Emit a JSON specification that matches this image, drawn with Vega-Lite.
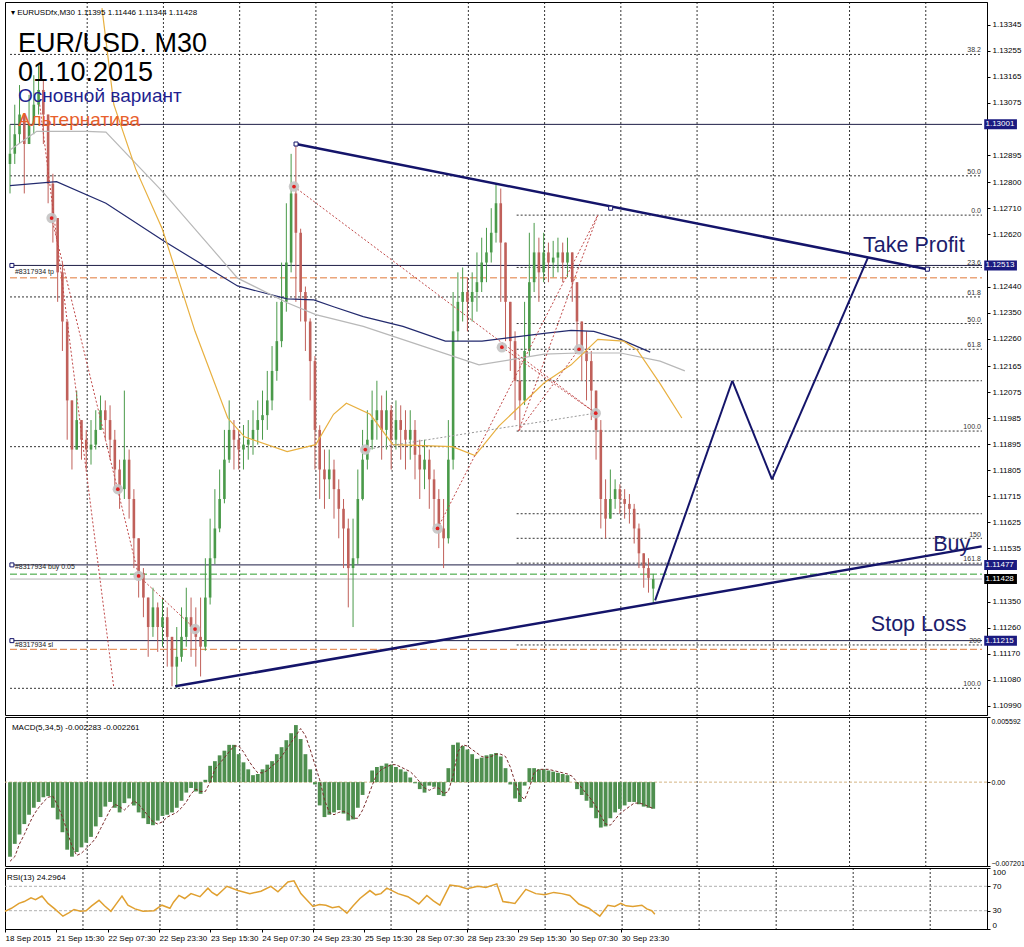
{
"$schema":"https://vega.github.io/schema/vega-lite/v6.json",
"padding":{"left":1,"top":1,"right":0,"bottom":0},
"spacing":2,
"bounds":"flush",
"config":{"view":{"stroke":"#000","strokeWidth":1},"font":"Liberation Sans","axis":{"labelFont":"Liberation Sans","labelFontSize":8,"labelColor":"#000","domainColor":"#000","tickColor":"#000","tickSize":3,"grid":false,"labelPadding":2}},
"datasets":{
"vg":[{"t":48.6},{"t":96.6},{"t":144.6},{"t":192.6},{"t":240.6},{"t":288.6},{"t":336.6},{"t":384.6},{"t":432.6},{"t":480.6},{"t":528.6},{"t":576.6}],
"cd":[
{"t":0,"o":1.12864,"h":1.13001,"l":1.12762,"c":1.12899,"m":-0.0064,"s":-0.0068},
{"t":3,"o":1.12899,"h":1.13069,"l":1.12864,"c":1.12967,"m":-0.0053,"s":-0.0064},
{"t":6,"o":1.12967,"h":1.13137,"l":1.12933,"c":1.13035,"m":-0.0045,"s":-0.0053},
{"t":9,"o":1.13035,"h":1.13035,"l":1.12762,"c":1.12933,"m":-0.0036,"s":-0.0045},
{"t":12,"o":1.12933,"h":1.13103,"l":1.12933,"c":1.13001,"m":-0.0028,"s":-0.0036},
{"t":15,"o":1.13001,"h":1.13171,"l":1.12967,"c":1.13069,"m":-0.0022,"s":-0.0028},
{"t":18,"o":1.13069,"h":1.13205,"l":1.13035,"c":1.1312,"m":-0.0017,"s":-0.0022},
{"t":21,"o":1.1312,"h":1.13154,"l":1.12933,"c":1.13035,"m":-0.0013,"s":-0.0017},
{"t":24,"o":1.13035,"h":1.13035,"l":1.12728,"c":1.12796,"m":-0.0012,"s":-0.0013},
{"t":27,"o":1.12796,"h":1.1283,"l":1.12592,"c":1.12677,"m":-0.0022,"s":-0.0012},
{"t":30,"o":1.12677,"h":1.12677,"l":1.12387,"c":1.12489,"m":-0.0032,"s":-0.002},
{"t":33,"o":1.12489,"h":1.12523,"l":1.12217,"c":1.12319,"m":-0.0043,"s":-0.003},
{"t":36,"o":1.12319,"h":1.12319,"l":1.1191,"c":1.12046,"m":-0.0058,"s":-0.0042},
{"t":39,"o":1.12046,"h":1.12046,"l":1.11807,"c":1.11876,"m":-0.0064,"s":-0.0055},
{"t":42,"o":1.11876,"h":1.1208,"l":1.11876,"c":1.11978,"m":-0.006,"s":-0.0063},
{"t":45,"o":1.11978,"h":1.11978,"l":1.11841,"c":1.1191,"m":-0.0056,"s":-0.0061},
{"t":48,"o":1.1191,"h":1.11944,"l":1.11807,"c":1.11876,"m":-0.0052,"s":-0.0057},
{"t":51,"o":1.11876,"h":1.11978,"l":1.11824,"c":1.11893,"m":-0.0047,"s":-0.0053},
{"t":54,"o":1.11893,"h":1.12012,"l":1.11876,"c":1.11944,"m":-0.0038,"s":-0.0048},
{"t":57,"o":1.11944,"h":1.12063,"l":1.11944,"c":1.12012,"m":-0.003,"s":-0.004},
{"t":60,"o":1.12012,"h":1.12046,"l":1.1191,"c":1.11978,"m":-0.0021,"s":-0.0032},
{"t":63,"o":1.11978,"h":1.12029,"l":1.11841,"c":1.1191,"m":-0.0017,"s":-0.0024},
{"t":66,"o":1.1191,"h":1.11944,"l":1.11739,"c":1.11807,"m":-0.0022,"s":-0.0019},
{"t":69,"o":1.11807,"h":1.11841,"l":1.11671,"c":1.11739,"m":-0.0026,"s":-0.0021},
{"t":72,"o":1.11739,"h":1.1208,"l":1.11705,"c":1.11841,"m":-0.0018,"s":-0.0024},
{"t":75,"o":1.11841,"h":1.11876,"l":1.11637,"c":1.11705,"m":-0.0014,"s":-0.002},
{"t":78,"o":1.11705,"h":1.11739,"l":1.11466,"c":1.11569,"m":-0.002,"s":-0.0016},
{"t":81,"o":1.11569,"h":1.11569,"l":1.11364,"c":1.11449,"m":-0.0026,"s":-0.0019},
{"t":84,"o":1.11449,"h":1.11466,"l":1.11296,"c":1.11364,"m":-0.0031,"s":-0.0024},
{"t":87,"o":1.11364,"h":1.11364,"l":1.11159,"c":1.11262,"m":-0.0036,"s":-0.0029},
{"t":90,"o":1.11262,"h":1.11398,"l":1.11228,"c":1.1133,"m":-0.0037,"s":-0.0034},
{"t":93,"o":1.1133,"h":1.11347,"l":1.11176,"c":1.11262,"m":-0.0033,"s":-0.0036},
{"t":96,"o":1.11262,"h":1.11364,"l":1.11194,"c":1.11296,"m":-0.0029,"s":-0.0034},
{"t":99,"o":1.11296,"h":1.1133,"l":1.11125,"c":1.11228,"m":-0.0028,"s":-0.003},
{"t":102,"o":1.11228,"h":1.11228,"l":1.11057,"c":1.11125,"m":-0.0026,"s":-0.0028},
{"t":105,"o":1.11125,"h":1.11262,"l":1.1105,"c":1.11159,"m":-0.0022,"s":-0.0026},
{"t":108,"o":1.11159,"h":1.1133,"l":1.11142,"c":1.11228,"m":-0.0016,"s":-0.0022},
{"t":111,"o":1.11228,"h":1.11398,"l":1.11194,"c":1.11296,"m":-0.0009,"s":-0.0017},
{"t":114,"o":1.11296,"h":1.11364,"l":1.11159,"c":1.11262,"m":-0.0005,"s":-0.001},
{"t":117,"o":1.11262,"h":1.1133,"l":1.11125,"c":1.11228,"m":-0.0008,"s":-0.0006},
{"t":120,"o":1.11228,"h":1.11364,"l":1.11091,"c":1.11194,"m":-0.001,"s":-0.0008},
{"t":123,"o":1.11194,"h":1.115,"l":1.1118,"c":1.11364,"m":0.0002,"s":-0.0008},
{"t":126,"o":1.11364,"h":1.11637,"l":1.1134,"c":1.115,"m":0.0014,"s":0.0},
{"t":129,"o":1.115,"h":1.11739,"l":1.1148,"c":1.11603,"m":0.0018,"s":0.0011},
{"t":132,"o":1.11603,"h":1.11807,"l":1.1159,"c":1.11705,"m":0.0023,"s":0.0016},
{"t":135,"o":1.11705,"h":1.11944,"l":1.1169,"c":1.11841,"m":0.0027,"s":0.0021},
{"t":138,"o":1.11841,"h":1.12046,"l":1.1183,"c":1.11944,"m":0.0032,"s":0.0026},
{"t":141,"o":1.11944,"h":1.11978,"l":1.11807,"c":1.1191,"m":0.0032,"s":0.0031},
{"t":144,"o":1.1191,"h":1.11944,"l":1.11807,"c":1.11876,"m":0.0024,"s":0.0031},
{"t":147,"o":1.11876,"h":1.11961,"l":1.11807,"c":1.11893,"m":0.0017,"s":0.0026},
{"t":150,"o":1.11893,"h":1.11978,"l":1.11841,"c":1.1191,"m":0.0011,"s":0.0019},
{"t":153,"o":1.1191,"h":1.12012,"l":1.11858,"c":1.11944,"m":0.0006,"s":0.0013},
{"t":156,"o":1.11944,"h":1.12046,"l":1.11893,"c":1.11978,"m":0.0007,"s":0.0008},
{"t":159,"o":1.11978,"h":1.1208,"l":1.1191,"c":1.11995,"m":0.0011,"s":0.0008},
{"t":162,"o":1.11995,"h":1.12148,"l":1.11944,"c":1.12046,"m":0.0015,"s":0.001},
{"t":165,"o":1.12046,"h":1.12234,"l":1.12012,"c":1.12148,"m":0.0018,"s":0.0014},
{"t":168,"o":1.12148,"h":1.12387,"l":1.12114,"c":1.12251,"m":0.0024,"s":0.0017},
{"t":171,"o":1.12251,"h":1.12523,"l":1.1223,"c":1.12387,"m":0.003,"s":0.0022},
{"t":174,"o":1.12387,"h":1.12728,"l":1.12353,"c":1.12523,"m":0.0036,"s":0.0028},
{"t":177,"o":1.12523,"h":1.12899,"l":1.12489,"c":1.12762,"m":0.0042,"s":0.0034},
{"t":180,"o":1.12762,"h":1.12933,"l":1.12387,"c":1.12626,"m":0.0049,"s":0.004},
{"t":183,"o":1.12626,"h":1.1264,"l":1.12319,"c":1.12421,"m":0.0037,"s":0.0046},
{"t":186,"o":1.12421,"h":1.1244,"l":1.12217,"c":1.12319,"m":0.0024,"s":0.004},
{"t":189,"o":1.12319,"h":1.1233,"l":1.12046,"c":1.12182,"m":0.0011,"s":0.0028},
{"t":192,"o":1.12182,"h":1.122,"l":1.11807,"c":1.11944,"m":-0.0002,"s":0.0015},
{"t":195,"o":1.11944,"h":1.1196,"l":1.11705,"c":1.11807,"m":-0.002,"s":0.0002},
{"t":198,"o":1.11807,"h":1.11876,"l":1.11671,"c":1.11773,"m":-0.003,"s":-0.0015},
{"t":201,"o":1.11773,"h":1.11876,"l":1.11705,"c":1.11807,"m":-0.0028,"s":-0.0026},
{"t":204,"o":1.11807,"h":1.11841,"l":1.11637,"c":1.11739,"m":-0.0026,"s":-0.0028},
{"t":207,"o":1.11739,"h":1.11773,"l":1.11569,"c":1.11671,"m":-0.0024,"s":-0.0026},
{"t":210,"o":1.11671,"h":1.11705,"l":1.11466,"c":1.11603,"m":-0.0027,"s":-0.0025},
{"t":213,"o":1.11603,"h":1.11637,"l":1.1133,"c":1.11466,"m":-0.0033,"s":-0.0027},
{"t":216,"o":1.11466,"h":1.11637,"l":1.11262,"c":1.115,"m":-0.0032,"s":-0.0031},
{"t":219,"o":1.115,"h":1.11807,"l":1.1148,"c":1.11705,"m":-0.0022,"s":-0.0031},
{"t":222,"o":1.11705,"h":1.11944,"l":1.117,"c":1.11841,"m":-0.0011,"s":-0.0024},
{"t":225,"o":1.11841,"h":1.12012,"l":1.11807,"c":1.1191,"m":0.0,"s":-0.0014},
{"t":228,"o":1.1191,"h":1.1208,"l":1.11876,"c":1.11978,"m":0.001,"s":-0.0003},
{"t":231,"o":1.11978,"h":1.12114,"l":1.1191,"c":1.12012,"m":0.0013,"s":0.0007},
{"t":234,"o":1.12012,"h":1.12063,"l":1.11841,"c":1.11944,"m":0.0014,"s":0.0011},
{"t":237,"o":1.11944,"h":1.1208,"l":1.11876,"c":1.12012,"m":0.0016,"s":0.0013},
{"t":240,"o":1.12012,"h":1.1203,"l":1.11807,"c":1.1191,"m":0.0015,"s":0.0015},
{"t":243,"o":1.1191,"h":1.12046,"l":1.11876,"c":1.11978,"m":0.0013,"s":0.0015},
{"t":246,"o":1.11978,"h":1.12029,"l":1.11841,"c":1.11944,"m":0.0011,"s":0.0013},
{"t":249,"o":1.11944,"h":1.12012,"l":1.11807,"c":1.1191,"m":0.0009,"s":0.0011},
{"t":252,"o":1.1191,"h":1.12012,"l":1.11841,"c":1.11944,"m":0.0004,"s":0.0009},
{"t":255,"o":1.11944,"h":1.11978,"l":1.11773,"c":1.11858,"m":-0.0001,"s":0.0005},
{"t":258,"o":1.11858,"h":1.1191,"l":1.11705,"c":1.11807,"m":-0.0006,"s":0.0},
{"t":261,"o":1.11807,"h":1.1191,"l":1.11739,"c":1.11841,"m":-0.0009,"s":-0.0005},
{"t":264,"o":1.11841,"h":1.11876,"l":1.11671,"c":1.11773,"m":-0.0003,"s":-0.0007},
{"t":267,"o":1.11773,"h":1.11807,"l":1.11603,"c":1.11705,"m":-0.0004,"s":-0.0005},
{"t":270,"o":1.11705,"h":1.11739,"l":1.11535,"c":1.11603,"m":-0.0011,"s":-0.0005},
{"t":273,"o":1.11603,"h":1.11705,"l":1.11466,"c":1.11569,"m":-0.0012,"s":-0.001},
{"t":276,"o":1.11569,"h":1.11978,"l":1.11551,"c":1.11841,"m":0.0012,"s":-0.0008},
{"t":279,"o":1.11841,"h":1.12421,"l":1.11807,"c":1.12285,"m":0.0032,"s":0.0006},
{"t":282,"o":1.12285,"h":1.12489,"l":1.12251,"c":1.12387,"m":0.0034,"s":0.0026},
{"t":285,"o":1.12387,"h":1.12506,"l":1.12319,"c":1.12421,"m":0.0031,"s":0.0032},
{"t":288,"o":1.12421,"h":1.12472,"l":1.12285,"c":1.12387,"m":0.0028,"s":0.0031},
{"t":291,"o":1.12387,"h":1.12489,"l":1.12319,"c":1.12421,"m":0.0024,"s":0.0028},
{"t":294,"o":1.12421,"h":1.12558,"l":1.12353,"c":1.12455,"m":0.002,"s":0.0025},
{"t":297,"o":1.12455,"h":1.12609,"l":1.12421,"c":1.12523,"m":0.0021,"s":0.0022},
{"t":300,"o":1.12523,"h":1.12643,"l":1.12455,"c":1.12558,"m":0.0023,"s":0.0021},
{"t":303,"o":1.12558,"h":1.12711,"l":1.12523,"c":1.12626,"m":0.0024,"s":0.0022},
{"t":306,"o":1.12626,"h":1.12796,"l":1.12592,"c":1.12728,"m":0.0025,"s":0.0024},
{"t":309,"o":1.12728,"h":1.12779,"l":1.12387,"c":1.12592,"m":0.0022,"s":0.0024},
{"t":312,"o":1.12592,"h":1.12592,"l":1.12251,"c":1.12387,"m":0.0012,"s":0.0022},
{"t":315,"o":1.12387,"h":1.12387,"l":1.12148,"c":1.12251,"m":-0.0002,"s":0.0013},
{"t":318,"o":1.12251,"h":1.12285,"l":1.11978,"c":1.12114,"m":-0.0014,"s":0.0},
{"t":321,"o":1.12114,"h":1.12182,"l":1.11944,"c":1.12046,"m":-0.0017,"s":-0.0011},
{"t":324,"o":1.12046,"h":1.12387,"l":1.1203,"c":1.12217,"m":-0.0003,"s":-0.0015},
{"t":327,"o":1.12217,"h":1.12626,"l":1.122,"c":1.12455,"m":0.0012,"s":-0.0005},
{"t":330,"o":1.12455,"h":1.1266,"l":1.12421,"c":1.12558,"m":0.0012,"s":0.0008},
{"t":333,"o":1.12558,"h":1.12609,"l":1.12387,"c":1.12489,"m":0.0011,"s":0.0011},
{"t":336,"o":1.12489,"h":1.12626,"l":1.12455,"c":1.12558,"m":0.0011,"s":0.0011},
{"t":339,"o":1.12558,"h":1.12592,"l":1.12455,"c":1.12523,"m":0.001,"s":0.0011},
{"t":342,"o":1.12523,"h":1.12598,"l":1.12472,"c":1.1254,"m":0.0009,"s":0.001},
{"t":345,"o":1.1254,"h":1.12609,"l":1.12489,"c":1.12558,"m":0.0008,"s":0.0009},
{"t":348,"o":1.12558,"h":1.12592,"l":1.12455,"c":1.12523,"m":0.0007,"s":0.0008},
{"t":351,"o":1.12523,"h":1.12609,"l":1.12472,"c":1.12558,"m":0.0006,"s":0.0007},
{"t":354,"o":1.12558,"h":1.12558,"l":1.12387,"c":1.12455,"m":0.0,"s":0.0005},
{"t":357,"o":1.12455,"h":1.12455,"l":1.12217,"c":1.12319,"m":-0.0006,"s":0.0},
{"t":360,"o":1.12319,"h":1.12319,"l":1.12114,"c":1.12217,"m":-0.0011,"s":-0.0005},
{"t":363,"o":1.12217,"h":1.12285,"l":1.12046,"c":1.12182,"m":-0.0016,"s":-0.001},
{"t":366,"o":1.12182,"h":1.12217,"l":1.11978,"c":1.1208,"m":-0.0022,"s":-0.0015},
{"t":369,"o":1.1208,"h":1.1208,"l":1.11841,"c":1.11944,"m":-0.0031,"s":-0.0021},
{"t":372,"o":1.11944,"h":1.11978,"l":1.11603,"c":1.11705,"m":-0.0039,"s":-0.0029},
{"t":375,"o":1.11705,"h":1.11773,"l":1.11569,"c":1.11637,"m":-0.0038,"s":-0.0036},
{"t":378,"o":1.11637,"h":1.11807,"l":1.11637,"c":1.11705,"m":-0.0031,"s":-0.0037},
{"t":381,"o":1.11705,"h":1.11773,"l":1.11671,"c":1.11739,"m":-0.0026,"s":-0.0032},
{"t":384,"o":1.11739,"h":1.11756,"l":1.11654,"c":1.11705,"m":-0.0023,"s":-0.0027},
{"t":387,"o":1.11705,"h":1.11739,"l":1.11637,"c":1.11688,"m":-0.002,"s":-0.0024},
{"t":390,"o":1.11688,"h":1.11722,"l":1.1162,"c":1.11671,"m":-0.0017,"s":-0.0021},
{"t":393,"o":1.11671,"h":1.11688,"l":1.11551,"c":1.11603,"m":-0.0017,"s":-0.0018},
{"t":396,"o":1.11603,"h":1.1162,"l":1.11466,"c":1.11517,"m":-0.0019,"s":-0.0018},
{"t":399,"o":1.11517,"h":1.11517,"l":1.11398,"c":1.11466,"m":-0.0021,"s":-0.0019},
{"t":402,"o":1.11466,"h":1.115,"l":1.11381,"c":1.11432,"m":-0.0022,"s":-0.0021},
{"t":405,"o":1.11395,"h":1.11446,"l":1.11344,"c":1.11428,"m":-0.002283,"s":-0.002261}
],
"ma":[
{"t":0,"k":"navy","p":1.12789},{"t":29.3,"k":"navy","p":1.12803},{"t":60.4,"k":"navy","p":1.12728},{"t":96.6,"k":"navy","p":1.12598},{"t":143.3,"k":"navy","p":1.12442},{"t":174.5,"k":"navy","p":1.12397},{"t":191.3,"k":"navy","p":1.12394},{"t":203.7,"k":"navy","p":1.1237},{"t":222.4,"k":"navy","p":1.12336},{"t":247.4,"k":"navy","p":1.12302},{"t":274.1,"k":"navy","p":1.12251},{"t":297.2,"k":"navy","p":1.12251},{"t":336.4,"k":"navy","p":1.12278},{"t":353.3,"k":"navy","p":1.12288},{"t":367.6,"k":"navy","p":1.12285},{"t":384.4,"k":"navy","p":1.12257},{"t":403.1,"k":"navy","p":1.12213},
{"t":0,"k":"gray","p":1.12912},{"t":16.8,"k":"gray","p":1.12977},{"t":48,"k":"gray","p":1.12977},{"t":60.4,"k":"gray","p":1.12974},{"t":95.9,"k":"gray","p":1.12769},{"t":143.3,"k":"gray","p":1.12469},{"t":174.5,"k":"gray","p":1.12384},{"t":192.5,"k":"gray","p":1.12343},{"t":222.4,"k":"gray","p":1.12302},{"t":259.8,"k":"gray","p":1.12234},{"t":295.3,"k":"gray","p":1.12169},{"t":336.4,"k":"gray","p":1.12206},{"t":357.6,"k":"gray","p":1.1221},{"t":384.4,"k":"gray","p":1.1221},{"t":409.3,"k":"gray","p":1.12182},{"t":424.9,"k":"gray","p":1.12148},
{"t":57.9,"k":"orange","p":1.13403},{"t":65.4,"k":"orange","p":1.13069},{"t":79.1,"k":"orange","p":1.12847},{"t":95.9,"k":"orange","p":1.12639},{"t":116.5,"k":"orange","p":1.12285},{"t":137.1,"k":"orange","p":1.11985},{"t":147.7,"k":"orange","p":1.1192},{"t":174.5,"k":"orange","p":1.11869},{"t":192.5,"k":"orange","p":1.11893},{"t":203.7,"k":"orange","p":1.11998},{"t":211.8,"k":"orange","p":1.12036},{"t":226.8,"k":"orange","p":1.11998},{"t":241.1,"k":"orange","p":1.11893},{"t":278.5,"k":"orange","p":1.11886},{"t":292.8,"k":"orange","p":1.11855},{"t":307.8,"k":"orange","p":1.11957},{"t":336.4,"k":"orange","p":1.12107},{"t":353.3,"k":"orange","p":1.12169},{"t":370.1,"k":"orange","p":1.12257},{"t":386.3,"k":"orange","p":1.12251},{"t":395,"k":"orange","p":1.1222},{"t":409.3,"k":"orange","p":1.12104},{"t":423,"k":"orange","p":1.11985}
],
"seg":[
{"t":0,"p":1.13243,"t2":612,"p2":1.13243,"g":"f1"},{"t":0,"p":1.12823,"t2":612,"p2":1.12823,"g":"f1"},{"t":0,"p":1.12404,"t2":612,"p2":1.12404,"g":"f1"},{"t":0,"p":1.11886,"t2":612,"p2":1.11886,"g":"f1"},{"t":0,"p":1.1105,"t2":612,"p2":1.1105,"g":"f1"},
{"t":319,"p":1.12687,"t2":612,"p2":1.12687,"g":"f2"},{"t":319,"p":1.12506,"t2":612,"p2":1.12506,"g":"f2"},{"t":319,"p":1.12312,"t2":612,"p2":1.12312,"g":"f2"},{"t":319,"p":1.12223,"t2":612,"p2":1.12223,"g":"f2"},{"t":319,"p":1.12114,"t2":612,"p2":1.12114,"g":"f2"},{"t":319,"p":1.1194,"t2":612,"p2":1.1194,"g":"f2"},{"t":319,"p":1.11654,"t2":612,"p2":1.11654,"g":"f2"},{"t":319,"p":1.11569,"t2":612,"p2":1.11569,"g":"f2"},{"t":319,"p":1.11483,"t2":612,"p2":1.11483,"g":"f2"},{"t":319,"p":1.112,"t2":612,"p2":1.112,"g":"f2"},
{"t":0,"p":1.13001,"t2":612,"p2":1.13001,"g":"h"},{"t":0,"p":1.12513,"t2":612,"p2":1.12513,"g":"h"},{"t":0,"p":1.11477,"t2":612,"p2":1.11477,"g":"h"},{"t":0,"p":1.11215,"t2":612,"p2":1.11215,"g":"h"},
{"t":0,"p":1.1247,"t2":612,"p2":1.1247,"g":"tp"},{"t":0,"p":1.11185,"t2":612,"p2":1.11185,"g":"tp"},
{"t":0,"p":1.11445,"t2":612,"p2":1.11445,"g":"buy"},
{"t":0,"p":1.11428,"t2":612,"p2":1.11428,"g":"bid"},
{"t":18.7,"p":1.13069,"t2":65.4,"p2":1.1105,"g":"rd"},{"t":26.2,"p":1.12677,"t2":81,"p2":1.11439,"g":"rd"},{"t":81,"p":1.11439,"t2":116.5,"p2":1.11255,"g":"rd"},{"t":178.8,"p":1.12786,"t2":368.8,"p2":1.12002,"g":"rd"},{"t":269.2,"p":1.11603,"t2":370.1,"p2":1.12687,"g":"rd"},{"t":320.2,"p":1.1194,"t2":370.1,"p2":1.12687,"g":"rd"},{"t":309.7,"p":1.1223,"t2":368.8,"p2":1.12002,"g":"rd"},{"t":320.2,"p":1.1194,"t2":358.3,"p2":1.12223,"g":"rd"},
{"t":223.7,"p":1.11876,"t2":368.8,"p2":1.12002,"g":"gd"},
{"t":180.1,"p":1.12933,"t2":577.6,"p2":1.125,"g":"tr"},{"t":104,"p":1.11057,"t2":611.8,"p2":1.11541,"g":"tr"},
{"t":406.2,"p":1.11354,"t2":454.8,"p2":1.12114,"g":"zz"},{"t":454.8,"p":1.12114,"t2":479.8,"p2":1.11773,"g":"zz"},{"t":479.8,"p":1.11773,"t2":540.2,"p2":1.1254,"g":"zz"}
],
"mk":[{"t":26.2,"p":1.12677},{"t":67.9,"p":1.11739},{"t":81,"p":1.11439},{"t":116.5,"p":1.11255},{"t":178.8,"p":1.12786},{"t":223.7,"p":1.11876},{"t":269.2,"p":1.11603},{"t":309.7,"p":1.1223},{"t":358.3,"p":1.12223},{"t":368.8,"p":1.12002}],
"sq":[{"t":180.1,"p":1.12933},{"t":378.2,"p":1.12711},{"t":577.6,"p":1.125},{"t":1.2,"p":1.12513},{"t":1.2,"p":1.11477},{"t":1.2,"p":1.11215}],
"tx":[
{"t":0.6,"p":1.13379,"s":"▾ EURUSDfx,M30  1.11395 1.11446 1.11344 1.11428","g":"hdr"},
{"t":5,"p":1.1325,"s":"EUR/USD. M30","g":"big"},
{"t":5,"p":1.13151,"s":"01.10.2015","g":"big"},
{"t":5,"p":1.13079,"s":"Основной вариант","g":"s1"},
{"t":5,"p":1.12997,"s":"Альтернатива","g":"s2"},
{"t":3.1,"p":1.12483,"s":"#8317934 tp","g":"tag"},
{"t":3.1,"p":1.11463,"s":"#8317934 buy 0.05","g":"tag"},
{"t":3.1,"p":1.11194,"s":"#8317934 sl","g":"tag"},
{"t":537.1,"p":1.12558,"s":"Take Profit","g":"lbl"},
{"t":581.3,"p":1.11524,"s":"Buy","g":"lbl"},
{"t":542,"p":1.11248,"s":"Stop Loss","g":"lbl"},
{"t":611.3,"p":1.1325,"s":"38.2","g":"fib"},
{"t":611.3,"p":1.1283,"s":"50.0","g":"fib"},
{"t":611.3,"p":1.12694,"s":"0.0","g":"fib"},
{"t":611.3,"p":1.12513,"s":"23.6","g":"fib"},
{"t":611.3,"p":1.12411,"s":"61.8","g":"fib"},
{"t":611.3,"p":1.12319,"s":"50.0","g":"fib"},
{"t":611.3,"p":1.1223,"s":"61.8","g":"fib"},
{"t":611.3,"p":1.11947,"s":"100.0","g":"fib"},
{"t":611.3,"p":1.11575,"s":"150","g":"fib"},
{"t":611.3,"p":1.1149,"s":"161.8","g":"fib"},
{"t":611.3,"p":1.11207,"s":"200","g":"fib"},
{"t":611.3,"p":1.11057,"s":"100.0","g":"fib"}
],
"box":[{"p":1.13001,"g":"n"},{"p":1.12513,"g":"n"},{"p":1.11477,"g":"n"},{"p":1.11428,"g":"k"},{"p":1.11215,"g":"n"}],
"rsi":[
{"t":0,"r":29},{"t":4,"r":34},{"t":8.7,"r":42},{"t":12,"r":45},{"t":16.2,"r":51},{"t":19,"r":48},{"t":23,"r":54},{"t":26.8,"r":42},{"t":31,"r":33},{"t":36.1,"r":21},{"t":40,"r":27},{"t":43,"r":32},{"t":47,"r":29},{"t":50.5,"r":30},{"t":54,"r":38},{"t":58.6,"r":47},{"t":62,"r":38},{"t":66,"r":29},{"t":69,"r":40},{"t":72.9,"r":54},{"t":76.6,"r":39},{"t":81,"r":33},{"t":86,"r":29},{"t":92.8,"r":30},{"t":97.8,"r":39},{"t":102.8,"r":34},{"t":105,"r":44},{"t":108.4,"r":55},{"t":112,"r":50},{"t":115.9,"r":58},{"t":121.5,"r":53},{"t":126.5,"r":67},{"t":129,"r":60},{"t":132.1,"r":55},{"t":138.3,"r":70},{"t":145.2,"r":63},{"t":152.6,"r":58},{"t":159.5,"r":62},{"t":165.7,"r":70},{"t":170.1,"r":61},{"t":176.3,"r":77},{"t":180.1,"r":79},{"t":184.4,"r":58},{"t":188,"r":48},{"t":191.9,"r":37},{"t":196,"r":40},{"t":200,"r":39},{"t":204,"r":35},{"t":208.1,"r":37},{"t":213.1,"r":26},{"t":217,"r":38},{"t":221.2,"r":50},{"t":227.4,"r":63},{"t":231,"r":56},{"t":234.3,"r":58},{"t":238,"r":67},{"t":244.9,"r":58},{"t":251.1,"r":53},{"t":257.9,"r":41},{"t":262.9,"r":55},{"t":267,"r":46},{"t":271,"r":39},{"t":277.3,"r":72},{"t":282.9,"r":70},{"t":287.9,"r":66},{"t":294.7,"r":70},{"t":299.7,"r":68},{"t":306.5,"r":74},{"t":310.3,"r":45},{"t":317.8,"r":42},{"t":324.6,"r":65},{"t":330.8,"r":58},{"t":336.4,"r":56},{"t":342,"r":60},{"t":347,"r":58},{"t":352,"r":55},{"t":357.6,"r":41},{"t":363.9,"r":34},{"t":367,"r":28},{"t":370.7,"r":21},{"t":375.7,"r":39},{"t":380,"r":37},{"t":383.8,"r":42},{"t":387,"r":38},{"t":391.3,"r":37},{"t":396.9,"r":39},{"t":400,"r":33},{"t":403.1,"r":30},{"t":405,"r":24.3}
]
},
"vconcat":[
{"width":982,"height":713,
"resolve":{"axis":{"x":"independent","y":"independent"}},
"layer":[
{"data":{"name":"vg"},"mark":{"type":"rule","color":"#000","strokeDash":[2,2],"strokeWidth":0.8},"encoding":{"x":{"field":"t","type":"quantitative","scale":{"domain":[0,612],"nice":false,"zero":false},"axis":null}}},
{"data":{"name":"seg"},"transform":[{"filter":"datum.g=='f1'"}],"mark":{"type":"rule","color":"#000","strokeDash":[2,2],"strokeWidth":0.8},"encoding":{"x":{"field":"t","type":"quantitative","scale":{"domain":[0,612],"nice":false,"zero":false},"axis":null},"x2":{"field":"t2"},"y":{"field":"p","type":"quantitative","title":null,"scale":{"domain":[1.10975,1.13407],"nice":false,"zero":false},"axis":{"orient":"right","values":[1.13345,1.13255,1.13165,1.13075,1.12895,1.128,1.1271,1.1262,1.1244,1.1235,1.1226,1.12165,1.12075,1.11985,1.11895,1.11805,1.11715,1.11625,1.11535,1.1135,1.1126,1.1117,1.1108,1.1099],"format":".5f","labelFlush":false,"labelOverlap":false}},"y2":{"field":"p2"}}},
{"data":{"name":"seg"},"transform":[{"filter":"datum.g=='f2'"}],"mark":{"type":"rule","color":"#000","strokeDash":[2,2],"strokeWidth":0.8},"encoding":{"x":{"field":"t","type":"quantitative","scale":{"domain":[0,612],"nice":false,"zero":false},"axis":null},"x2":{"field":"t2"},"y":{"field":"p","type":"quantitative","scale":{"domain":[1.10975,1.13407],"nice":false,"zero":false},"axis":null},"y2":{"field":"p2"}}},
{"data":{"name":"seg"},"transform":[{"filter":"datum.g=='h'"}],"mark":{"type":"rule","color":"#1e1e46","strokeWidth":1},"encoding":{"x":{"field":"t","type":"quantitative","scale":{"domain":[0,612],"nice":false,"zero":false},"axis":null},"x2":{"field":"t2"},"y":{"field":"p","type":"quantitative","scale":{"domain":[1.10975,1.13407],"nice":false,"zero":false},"axis":null},"y2":{"field":"p2"}}},
{"data":{"name":"seg"},"transform":[{"filter":"datum.g=='tp'"}],"mark":{"type":"rule","color":"#e07838","strokeWidth":1,"strokeDash":[7,3]},"encoding":{"x":{"field":"t","type":"quantitative","scale":{"domain":[0,612],"nice":false,"zero":false},"axis":null},"x2":{"field":"t2"},"y":{"field":"p","type":"quantitative","scale":{"domain":[1.10975,1.13407],"nice":false,"zero":false},"axis":null},"y2":{"field":"p2"}}},
{"data":{"name":"seg"},"transform":[{"filter":"datum.g=='buy'"}],"mark":{"type":"rule","color":"#2e9e2e","strokeWidth":1,"strokeDash":[7,3]},"encoding":{"x":{"field":"t","type":"quantitative","scale":{"domain":[0,612],"nice":false,"zero":false},"axis":null},"x2":{"field":"t2"},"y":{"field":"p","type":"quantitative","scale":{"domain":[1.10975,1.13407],"nice":false,"zero":false},"axis":null},"y2":{"field":"p2"}}},
{"data":{"name":"seg"},"transform":[{"filter":"datum.g=='bid'"}],"mark":{"type":"rule","color":"#b4b4b4","strokeWidth":1},"encoding":{"x":{"field":"t","type":"quantitative","scale":{"domain":[0,612],"nice":false,"zero":false},"axis":null},"x2":{"field":"t2"},"y":{"field":"p","type":"quantitative","scale":{"domain":[1.10975,1.13407],"nice":false,"zero":false},"axis":null},"y2":{"field":"p2"}}},
{"data":{"name":"cd"},"mark":{"type":"rule","strokeWidth":1},"encoding":{"x":{"field":"t","type":"quantitative","scale":{"domain":[0,612],"nice":false,"zero":false},"axis":null},"y":{"field":"h","type":"quantitative","scale":{"domain":[1.10975,1.13407],"nice":false,"zero":false},"axis":null},"y2":{"field":"l"},"color":{"condition":{"test":"datum.c >= datum.o","value":"#4a9a4a"},"value":"#c0605a"}}},
{"data":{"name":"cd"},"mark":{"type":"bar","width":2.6},"encoding":{"x":{"field":"t","type":"quantitative","scale":{"domain":[0,612],"nice":false,"zero":false},"axis":null},"y":{"field":"o","type":"quantitative","scale":{"domain":[1.10975,1.13407],"nice":false,"zero":false},"axis":null},"y2":{"field":"c"},"color":{"condition":{"test":"datum.c >= datum.o","value":"#4a9a4a"},"value":"#c0605a"}}},
{"data":{"name":"ma"},"mark":{"type":"line","strokeWidth":1.2,"clip":true},"encoding":{"x":{"field":"t","type":"quantitative","scale":{"domain":[0,612],"nice":false,"zero":false},"axis":null},"y":{"field":"p","type":"quantitative","scale":{"domain":[1.10975,1.13407],"nice":false,"zero":false},"axis":null},"color":{"field":"k","type":"nominal","scale":{"domain":["navy","gray","orange"],"range":["#232a6e","#b8b8b8","#e8b040"]},"legend":null}}},
{"data":{"name":"seg"},"transform":[{"filter":"datum.g=='rd'"}],"mark":{"type":"rule","color":"#c04848","strokeWidth":1,"strokeDash":[2,2]},"encoding":{"x":{"field":"t","type":"quantitative","scale":{"domain":[0,612],"nice":false,"zero":false},"axis":null},"x2":{"field":"t2"},"y":{"field":"p","type":"quantitative","scale":{"domain":[1.10975,1.13407],"nice":false,"zero":false},"axis":null},"y2":{"field":"p2"}}},
{"data":{"name":"seg"},"transform":[{"filter":"datum.g=='gd'"}],"mark":{"type":"rule","color":"#999","strokeWidth":1,"strokeDash":[2,2]},"encoding":{"x":{"field":"t","type":"quantitative","scale":{"domain":[0,612],"nice":false,"zero":false},"axis":null},"x2":{"field":"t2"},"y":{"field":"p","type":"quantitative","scale":{"domain":[1.10975,1.13407],"nice":false,"zero":false},"axis":null},"y2":{"field":"p2"}}},
{"data":{"name":"mk"},"mark":{"type":"point","filled":true,"color":"#c4c4c4","size":110,"opacity":0.9},"encoding":{"x":{"field":"t","type":"quantitative","scale":{"domain":[0,612],"nice":false,"zero":false},"axis":null},"y":{"field":"p","type":"quantitative","scale":{"domain":[1.10975,1.13407],"nice":false,"zero":false},"axis":null}}},
{"data":{"name":"mk"},"mark":{"type":"point","filled":true,"color":"#e02020","size":14,"opacity":1},"encoding":{"x":{"field":"t","type":"quantitative","scale":{"domain":[0,612],"nice":false,"zero":false},"axis":null},"y":{"field":"p","type":"quantitative","scale":{"domain":[1.10975,1.13407],"nice":false,"zero":false},"axis":null}}},
{"data":{"name":"seg"},"transform":[{"filter":"datum.g=='tr'"}],"mark":{"type":"rule","color":"#14146a","strokeWidth":2.5},"encoding":{"x":{"field":"t","type":"quantitative","scale":{"domain":[0,612],"nice":false,"zero":false},"axis":null},"x2":{"field":"t2"},"y":{"field":"p","type":"quantitative","scale":{"domain":[1.10975,1.13407],"nice":false,"zero":false},"axis":null},"y2":{"field":"p2"}}},
{"data":{"name":"seg"},"transform":[{"filter":"datum.g=='zz'"}],"mark":{"type":"rule","color":"#14146a","strokeWidth":2},"encoding":{"x":{"field":"t","type":"quantitative","scale":{"domain":[0,612],"nice":false,"zero":false},"axis":null},"x2":{"field":"t2"},"y":{"field":"p","type":"quantitative","scale":{"domain":[1.10975,1.13407],"nice":false,"zero":false},"axis":null},"y2":{"field":"p2"}}},
{"data":{"name":"sq"},"mark":{"type":"point","shape":"square","filled":true,"color":"#ffffff","stroke":"#14146a","strokeWidth":1,"size":16,"opacity":1},"encoding":{"x":{"field":"t","type":"quantitative","scale":{"domain":[0,612],"nice":false,"zero":false},"axis":null},"y":{"field":"p","type":"quantitative","scale":{"domain":[1.10975,1.13407],"nice":false,"zero":false},"axis":null}}},
{"data":{"name":"tx"},"transform":[{"filter":"datum.g=='big'"}],"mark":{"type":"text","align":"left","baseline":"alphabetic","fontSize":27,"color":"#000","font":"Liberation Sans"},"encoding":{"x":{"field":"t","type":"quantitative","scale":{"domain":[0,612],"nice":false,"zero":false},"axis":null},"y":{"field":"p","type":"quantitative","scale":{"domain":[1.10975,1.13407],"nice":false,"zero":false},"axis":null},"text":{"field":"s"}}},
{"data":{"name":"tx"},"transform":[{"filter":"datum.g=='s1'"}],"mark":{"type":"text","align":"left","baseline":"alphabetic","fontSize":19,"color":"#1f1f8f","font":"Liberation Sans"},"encoding":{"x":{"field":"t","type":"quantitative","scale":{"domain":[0,612],"nice":false,"zero":false},"axis":null},"y":{"field":"p","type":"quantitative","scale":{"domain":[1.10975,1.13407],"nice":false,"zero":false},"axis":null},"text":{"field":"s"}}},
{"data":{"name":"tx"},"transform":[{"filter":"datum.g=='s2'"}],"mark":{"type":"text","align":"left","baseline":"alphabetic","fontSize":19,"color":"#e8602c","font":"Liberation Sans"},"encoding":{"x":{"field":"t","type":"quantitative","scale":{"domain":[0,612],"nice":false,"zero":false},"axis":null},"y":{"field":"p","type":"quantitative","scale":{"domain":[1.10975,1.13407],"nice":false,"zero":false},"axis":null},"text":{"field":"s"}}},
{"data":{"name":"tx"},"transform":[{"filter":"datum.g=='hdr'"}],"mark":{"type":"text","align":"left","baseline":"alphabetic","fontSize":8,"color":"#000","font":"Liberation Sans"},"encoding":{"x":{"field":"t","type":"quantitative","scale":{"domain":[0,612],"nice":false,"zero":false},"axis":null},"y":{"field":"p","type":"quantitative","scale":{"domain":[1.10975,1.13407],"nice":false,"zero":false},"axis":null},"text":{"field":"s"}}},
{"data":{"name":"tx"},"transform":[{"filter":"datum.g=='tag'"}],"mark":{"type":"text","align":"left","baseline":"alphabetic","fontSize":7,"color":"#222","font":"Liberation Sans"},"encoding":{"x":{"field":"t","type":"quantitative","scale":{"domain":[0,612],"nice":false,"zero":false},"axis":null},"y":{"field":"p","type":"quantitative","scale":{"domain":[1.10975,1.13407],"nice":false,"zero":false},"axis":null},"text":{"field":"s"}}},
{"data":{"name":"tx"},"transform":[{"filter":"datum.g=='lbl'"}],"mark":{"type":"text","align":"left","baseline":"alphabetic","fontSize":21.5,"color":"#1c1c6c","font":"Liberation Sans"},"encoding":{"x":{"field":"t","type":"quantitative","scale":{"domain":[0,612],"nice":false,"zero":false},"axis":null},"y":{"field":"p","type":"quantitative","scale":{"domain":[1.10975,1.13407],"nice":false,"zero":false},"axis":null},"text":{"field":"s"}}},
{"data":{"name":"tx"},"transform":[{"filter":"datum.g=='fib'"}],"mark":{"type":"text","align":"right","baseline":"alphabetic","fontSize":7,"color":"#333","font":"Liberation Sans"},"encoding":{"x":{"field":"t","type":"quantitative","scale":{"domain":[0,612],"nice":false,"zero":false},"axis":null},"y":{"field":"p","type":"quantitative","scale":{"domain":[1.10975,1.13407],"nice":false,"zero":false},"axis":null},"text":{"field":"s"}}},
{"data":{"name":"box"},"mark":{"type":"bar","height":10},"encoding":{"x":{"datum":613.4,"type":"quantitative","scale":{"domain":[0,612],"nice":false,"zero":false},"axis":null},"x2":{"datum":634},"y":{"field":"p","type":"quantitative","scale":{"domain":[1.10975,1.13407],"nice":false,"zero":false},"axis":null},"color":{"condition":{"test":"datum.g=='k'","value":"#000000"},"value":"#1a1a80"}}},
{"data":{"name":"box"},"mark":{"type":"text","align":"left","baseline":"middle","fontSize":8,"color":"#ffffff","font":"Liberation Sans"},"encoding":{"x":{"datum":614.2,"type":"quantitative","scale":{"domain":[0,612],"nice":false,"zero":false},"axis":null},"y":{"field":"p","type":"quantitative","scale":{"domain":[1.10975,1.13407],"nice":false,"zero":false},"axis":null},"text":{"field":"p","format":".5f"}}}
]},
{"width":982,"height":149,
"resolve":{"axis":{"x":"independent","y":"independent"}},
"layer":[
{"data":{"name":"vg"},"mark":{"type":"rule","color":"#000","strokeDash":[2,2],"strokeWidth":0.8},"encoding":{"x":{"field":"t","type":"quantitative","scale":{"domain":[0,612],"nice":false,"zero":false},"axis":null}}},
{"data":{"values":[{"v":0}]},"mark":{"type":"rule","color":"#d4b483","strokeDash":[3,2],"strokeWidth":1},"encoding":{"y":{"field":"v","type":"quantitative","scale":{"domain":[-0.007201,0.005592],"nice":false,"zero":false},"axis":null}}},
{"data":{"name":"cd"},"mark":{"type":"bar","width":3.8,"color":"#4f8f4f"},"encoding":{"x":{"field":"t","type":"quantitative","scale":{"domain":[0,612],"nice":false,"zero":false},"axis":null},"y":{"field":"m","type":"quantitative","title":null,"scale":{"domain":[-0.007201,0.005592],"nice":false,"zero":false},"axis":{"orient":"right","values":[0.005592,0,-0.007201],"labelExpr":"datum.value == 0 ? '0.00' : format(datum.value, '.6f')","labelFlush":true,"labelOverlap":false,"labelFontSize":7,"labelPadding":1}},"y2":{"datum":0}}},
{"data":{"name":"cd"},"mark":{"type":"line","color":"#7a2a2a","strokeWidth":1,"strokeDash":[3,2]},"encoding":{"x":{"field":"t","type":"quantitative","scale":{"domain":[0,612],"nice":false,"zero":false},"axis":null},"y":{"field":"s","type":"quantitative","scale":{"domain":[-0.007201,0.005592],"nice":false,"zero":false},"axis":null}}},
{"data":{"values":[{"t":1.2,"v":0.00448,"s":"MACD(5,34,5) -0.002283 -0.002261"}]},"mark":{"type":"text","align":"left","baseline":"alphabetic","fontSize":8,"color":"#000","font":"Liberation Sans"},"encoding":{"x":{"field":"t","type":"quantitative","scale":{"domain":[0,612],"nice":false,"zero":false},"axis":null},"y":{"field":"v","type":"quantitative","scale":{"domain":[-0.007201,0.005592],"nice":false,"zero":false},"axis":null},"text":{"field":"s"}}}
]},
{"width":982,"height":61,
"resolve":{"axis":{"x":"independent","y":"independent"}},
"layer":[
{"data":{"name":"vg"},"mark":{"type":"rule","color":"#000","strokeDash":[2,2],"strokeWidth":0.8},"encoding":{"x":{"field":"t","type":"quantitative","scale":{"domain":[0,612],"nice":false,"zero":false},"axis":null}}},
{"data":{"values":[{"v":70},{"v":30}]},"mark":{"type":"rule","color":"#b0b0b0","strokeDash":[3,2],"strokeWidth":1},"encoding":{"y":{"field":"v","type":"quantitative","scale":{"domain":[0,100],"nice":false,"zero":false},"axis":null}}},
{"data":{"name":"rsi"},"mark":{"type":"line","color":"#e0a030","strokeWidth":1.5},"encoding":{"x":{"field":"t","type":"quantitative","title":null,"scale":{"domain":[0,612],"nice":false,"zero":false},"axis":{"orient":"bottom","values":[0,32,64,96,128,160,192,224,256,288,320,352,384],"labelExpr":"['18 Sep 2015','21 Sep 15:30','22 Sep 07:30','22 Sep 23:30','23 Sep 15:30','24 Sep 07:30','24 Sep 23:30','25 Sep 15:30','28 Sep 07:30','28 Sep 23:30','29 Sep 15:30','30 Sep 07:30','30 Sep 23:30'][round(datum.value/32)]","labelAlign":"left","labelFlush":false,"labelOverlap":false,"labelPadding":2}},"y":{"field":"r","type":"quantitative","title":null,"scale":{"domain":[0,100],"nice":false,"zero":false},"axis":{"orient":"right","values":[100,70,30,0],"labelFlush":true,"labelOverlap":false}}}},
{"data":{"values":[{"t":1.2,"v":80,"s":"RSI(13) 24.2964"}]},"mark":{"type":"text","align":"left","baseline":"alphabetic","fontSize":8,"color":"#000","font":"Liberation Sans"},"encoding":{"x":{"field":"t","type":"quantitative","scale":{"domain":[0,612],"nice":false,"zero":false},"axis":null},"y":{"field":"v","type":"quantitative","scale":{"domain":[0,100],"nice":false,"zero":false},"axis":null},"text":{"field":"s"}}}
]}
]
}
